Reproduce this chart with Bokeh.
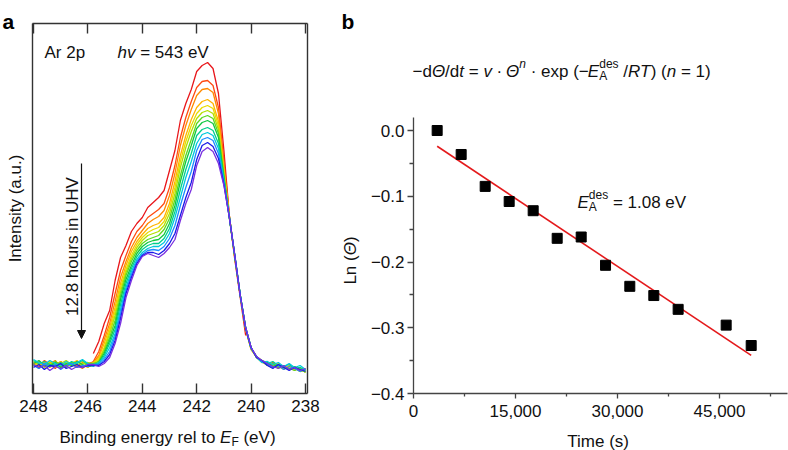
import math
from bokeh.plotting import figure
from bokeh.models import (Range1d, Label, Arrow, NormalHead, FixedTicker, LinearAxis,
                          NumeralTickFormatter, CustomJSTickFormatter)
from bokeh.layouts import row
from bokeh.embed import file_html
from bokeh.resources import INLINE

nan = float("nan")
FONT = "Liberation Sans"

# ---------------- Panel a data: Ar 2p spectra (intensity, a.u.) ----------------
energy_eV = [248.0, 247.8, 247.6, 247.4, 247.2, 247.0, 246.8, 246.6, 246.4, 246.2,
             246.0, 245.8, 245.6, 245.4, 245.2, 245.0, 244.8, 244.6, 244.4, 244.2,
             244.0, 243.8, 243.6, 243.4, 243.2, 243.0, 242.8, 242.6, 242.4, 242.2,
             242.0, 241.8, 241.6, 241.4, 241.2, 241.0, 240.8, 240.6, 240.4, 240.2,
             240.0, 239.8, 239.6, 239.4, 239.2, 239.0, 238.8, 238.6, 238.4, 238.2,
             238.0]

scan_01 = [nan, nan, nan, nan, nan, nan, nan, nan, nan, nan, nan,
           12, 24, 42, 55, 85, 108, 120, 134, 142, 148, 158, 163, 168, 175, 195,
           215, 245, 262, 276, 294, 300, 303, 297, 272, 215, 150, 106, 68, 30,
           nan, nan, nan, nan, nan, nan, nan, nan, nan, nan, nan]
scan_02 = [3, -2, 5, 1, -3, 4, 0, 2, -1, 3, 1,
           4, 14, 30, 48, 72, 95, 110, 124, 134, 140, 148, 152, 156, 162, 178,
           200, 228, 248, 264, 278, 284, 285, 280, 258, 205, 150, 108, 70, 36,
           16, 8, 4, 1, 3, -2, 0, -4, -1, -5, -3]
scan_03 = [0, 4, -1, 2, 5, -2, 1, 3, 0, -3, 2,
           3, 10, 26, 42, 64, 88, 104, 118, 128, 135, 142, 146, 149, 155, 170,
           192, 220, 240, 256, 270, 276, 277, 273, 252, 200, 149, 108, 70, 37,
           17, 9, 4, 0, -2, 2, -3, -1, -5, -2, -6]
scan_04 = [2, 0, 3, -2, 1, 4, -1, 2, 5, 0, -2,
           2, 8, 22, 38, 58, 82, 100, 114, 124, 131, 137, 140, 142, 148, 162,
           184, 210, 230, 246, 258, 264, 266, 262, 244, 196, 150, 109, 71, 36,
           17, 8, 3, 3, 0, -1, -4, 0, -3, -6, -4]
scan_05 = [-1, 3, 1, 4, -2, 0, 3, -1, 2, 4, 0,
           3, 6, 18, 35, 54, 78, 96, 110, 121, 128, 133, 136, 138, 144, 157,
           178, 204, 224, 240, 252, 258, 260, 257, 240, 194, 148, 108, 70, 37,
           16, 9, 5, 1, -1, 2, -3, -2, -4, -3, -7]
scan_06 = [4, 1, -2, 3, 0, 2, 5, 1, -2, 2, 3,
           1, 5, 16, 32, 50, 74, 93, 107, 118, 125, 130, 132, 134, 140, 152,
           172, 198, 218, 234, 247, 253, 255, 252, 236, 192, 149, 110, 71, 38,
           18, 8, 4, 2, 1, -3, 0, -4, -2, -6, -5]
scan_07 = [1, -3, 2, 0, 4, 1, -2, 3, 1, -1, 2,
           2, 4, 14, 28, 45, 70, 90, 104, 115, 122, 126, 128, 130, 136, 147,
           166, 190, 210, 226, 242, 248, 250, 247, 232, 190, 148, 109, 70, 37,
           17, 9, 4, 0, 2, -2, -1, -3, -5, -2, -7]
scan_08 = [2, 5, 0, -1, 3, -2, 2, 0, 4, 1, -1,
           0, 3, 12, 25, 40, 66, 86, 100, 112, 119, 123, 125, 126, 131, 142,
           160, 184, 204, 220, 237, 243, 245, 242, 228, 188, 147, 110, 71, 38,
           18, 8, 5, 3, -1, 1, -2, -4, -1, -5, -4]
scan_09 = [5, 2, 4, 1, -1, 3, 0, 4, 2, 5, 1,
           1, 2, 10, 22, 36, 61, 82, 97, 109, 116, 120, 122, 122, 127, 137,
           154, 176, 196, 212, 230, 236, 238, 235, 222, 186, 149, 109, 70, 37,
           17, 9, 4, 2, 4, 0, -1, 1, -3, -2, -5]
scan_10 = [6, 3, 1, 5, 2, 0, 4, 1, 3, 6, 2,
           -1, 3, 8, 18, 32, 56, 78, 94, 106, 113, 117, 119, 119, 123, 132,
           148, 168, 188, 204, 222, 231, 233, 230, 217, 184, 148, 110, 71, 38,
           18, 8, 3, 4, 1, 3, -1, 2, -2, 0, -4]
scan_11 = [0, -3, 2, -1, 1, -4, 0, 2, -2, 0, -1,
           1, 1, 6, 14, 29, 52, 75, 91, 104, 111, 115, 116, 115, 119, 127,
           140, 160, 178, 194, 215, 226, 228, 225, 212, 183, 149, 111, 71, 38,
           17, 9, 4, 1, -2, 0, -4, -1, -3, -6, -4]
scan_12 = [-2, 1, -4, 0, -1, 2, -3, -1, 1, -2, 0,
           0, 0, 4, 11, 25, 47, 72, 88, 102, 110, 113, 113, 111, 115, 122,
           132, 150, 168, 183, 206, 220, 223, 219, 207, 181, 148, 110, 70, 37,
           18, 8, 5, 0, -3, 1, -2, -5, -2, -4, -6]
scan_13 = [1, -2, 0, -5, -1, -3, 0, -4, -1, -2, 1,
           1, -1, 2, 8, 22, 42, 68, 85, 100, 109, 112, 110, 108, 112, 118,
           126, 145, 162, 176, 200, 214, 218, 214, 202, 180, 148, 110, 70, 38,
           18, 9, 5, 2, -1, -3, 0, -4, -2, -5, -3]

scans = [scan_01, scan_02, scan_03, scan_04, scan_05, scan_06, scan_07,
         scan_08, scan_09, scan_10, scan_11, scan_12, scan_13]
scan_colors = ["#e8161b", "#ff4a10", "#ff8a00", "#ffb400", "#e8dc00", "#b2e000",
               "#5cd820", "#10c840", "#00d08c", "#00c8dc", "#1c8cff", "#1a1ae8",
               "#7a30e0"]
energy_ticks = [248, 246, 244, 242, 240, 238]

# ---------------- Panel b data: Ln(theta) vs time ----------------
time_s = [3480, 7010, 10540, 14070, 17600, 21130, 24660, 28240, 31810, 35340,
          38920, 45980, 49660]
ln_theta = [0.0, -0.0365, -0.085, -0.108, -0.122, -0.164, -0.162, -0.205, -0.237,
            -0.251, -0.272, -0.296, -0.327]
fit_time_s = [3480, 49660]
fit_ln_theta = [-0.024, -0.342]
time_ticks = [0, 15000, 30000, 45000]
time_minor = [7500, 22500, 37500, 52500]
ln_ticks = [-0.4, -0.3, -0.2, -0.1, 0.0]
ln_minor = [-0.35, -0.25, -0.15, -0.05]

# ---------------- helpers for mixed-style text ----------------
W = {' ': 278, '(': 333, ')': 333, ',': 278, '.': 278, '/': 278, '=': 584,
     'A': 667, 'B': 667, 'E': 667, 'F': 611, 'H': 722, 'I': 278, 'L': 556,
     'R': 722, 'T': 611, 'U': 722, 'V': 667, 'a': 556, 'b': 556, 'c': 500,
     'd': 556, 'e': 556, 'g': 556, 'h': 556, 'i': 222, 'l': 222, 'm': 833,
     'n': 556, 'o': 556, 'p': 556, 'r': 333, 's': 500, 't': 278, 'u': 556,
     'v': 500, 'x': 500, 'y': 500, '\u0398': 778, '\u2212': 584, '\u00b7': 278}
for _d in "0123456789":
    W[_d] = 556


def tw(s, size):
    return sum(W.get(ch, 556) for ch in s) * size / 1000.0


def rich(fig, x, y, pieces, align="left", angle=0.0, color="#111111"):
    total = sum(tw(p[0], p[2]) for p in pieces if p[4])
    cur = -total / 2.0 if align == "center" else 0.0
    ca, sa = math.cos(angle), math.sin(angle)
    for text, style, size, dy, adv in pieces:
        stripped = text.lstrip(" ")
        lead = tw(text[:len(text) - len(stripped)], size)
        pos = cur + lead
        if stripped.strip():
            fig.add_layout(Label(x=x, y=y, x_offset=pos * ca - dy * sa,
                                 y_offset=pos * sa + dy * ca, text=stripped.rstrip(" "),
                                 text_font=FONT, text_font_size=f"{size}px",
                                 text_font_style=style, text_align="left",
                                 text_baseline="alphabetic", angle=angle,
                                 text_color=color))
        if adv:
            cur += tw(text, size)


def P(text, style="normal", size=17, dy=0, adv=True):
    return (text, style, size, dy, adv)


def style_axis(ax, color="#333333", width=1.4):
    ax.axis_line_color = color
    ax.axis_line_width = width
    ax.major_tick_line_color = color
    ax.minor_tick_line_color = color
    ax.major_tick_line_width = width
    ax.minor_tick_line_width = width
    ax.major_label_text_font = FONT
    ax.major_label_text_font_size = "17px"
    ax.major_label_text_color = "#111111"


W1, W2, H = 338, 450, 450

# ---------------- Panel a ----------------
def xa(px):  # page px -> binding energy
    return 248.0 - (px - 33.0) / 27.2


def ya(py):  # page px -> intensity
    return 365.0 - py


p1 = figure(width=W1, height=H, x_range=Range1d(xa(0), xa(W1)),
            y_range=Range1d(ya(H), ya(0)), output_backend="svg",
            toolbar_location=None, x_axis_location=None, y_axis_location=None,
            min_border=0)
p1.grid.visible = False
p1.outline_line_color = None

box_l, box_r, box_b, box_t = xa(32), xa(307), ya(393), ya(23)

bot = LinearAxis(fixed_location=box_b, bounds=(box_r, box_l),
                 ticker=FixedTicker(ticks=energy_ticks), major_tick_in=10,
                 major_tick_out=0, minor_tick_in=0, minor_tick_out=0,
                 major_label_standoff=6)
style_axis(bot)
p1.add_layout(bot, "below")

top = LinearAxis(fixed_location=box_t, bounds=(box_r, box_l),
                 ticker=FixedTicker(ticks=energy_ticks), major_tick_in=10,
                 major_tick_out=0, minor_tick_in=0, minor_tick_out=0,
                 formatter=CustomJSTickFormatter(code="return '';"))
style_axis(top)
p1.add_layout(top, "above")

for loc, side in ((box_l, "left"), (box_r, "right")):
    side_ax = LinearAxis(fixed_location=loc, bounds=(box_b, box_t),
                         ticker=FixedTicker(ticks=[]), major_tick_in=0, major_tick_out=0,
                         minor_tick_in=0, minor_tick_out=0)
    style_axis(side_ax)
    p1.add_layout(side_ax, side)

for scan, col in zip(scans, scan_colors):
    p1.line(energy_eV, scan, line_color=col, line_width=1.3)

p1.add_layout(Arrow(end=NormalHead(size=8, fill_color="#111111", line_color="#111111"),
                    x_start=xa(81), y_start=ya(163), x_end=xa(81), y_end=ya(338),
                    line_color="#111111", line_width=1.2))

p1.add_layout(Label(x=xa(2), y=ya(21), text="a", text_font=FONT, text_font_size="21px",
                    text_font_style="bold", text_baseline="alphabetic", text_color="#000000"))
rich(p1, xa(44), ya(52), [P("Ar 2p")])
rich(p1, xa(117), ya(52), [P("hv", "italic"), P(" = 543 eV")])
p1.add_layout(Label(x=xa(72), y=ya(246), text="12.8 hours in UHV", text_font=FONT,
                    text_font_size="17px", text_align="center", text_baseline="alphabetic",
                    angle=math.pi / 2, text_color="#111111"))
p1.add_layout(Label(x=xa(15), y=ya(208), text="Intensity (a.u.)", text_font=FONT,
                    text_font_size="17px", text_align="center", text_baseline="alphabetic",
                    angle=math.pi / 2, text_color="#111111"))
rich(p1, xa(167), ya(437), [P("Binding energy rel to "), P("E", "italic"),
                            P("F", size=12, dy=-4), P(" (eV)")], align="center")

# ---------------- Panel b ----------------
def xb(px):
    return (px - 413.0) * 15000.0 / 102.0


def yb(py):
    return (130.0 - py) / 657.5


p2 = figure(width=W2, height=H, x_range=Range1d(xb(W1), xb(W1 + W2)),
            y_range=Range1d(yb(H), yb(0)), output_backend="svg",
            toolbar_location=None, x_axis_location=None, y_axis_location=None,
            min_border=0)
p2.grid.visible = False
p2.outline_line_color = None

xax = LinearAxis(fixed_location=-0.4, bounds=(0, xb(787)),
                 ticker=FixedTicker(ticks=time_ticks, minor_ticks=time_minor),
                 formatter=NumeralTickFormatter(format="0,0"),
                 major_tick_in=0, major_tick_out=5, minor_tick_in=0, minor_tick_out=3,
                 major_label_standoff=6)
style_axis(xax, "#444444", 1.3)
p2.add_layout(xax, "below")

yax = LinearAxis(fixed_location=0, bounds=(-0.4, yb(117)),
                 ticker=FixedTicker(ticks=ln_ticks, minor_ticks=ln_minor),
                 formatter=CustomJSTickFormatter(
                     code="return (tick < -1e-9 ? '\\u2212' : '') + Math.abs(tick).toFixed(1);"),
                 major_tick_in=0, major_tick_out=6, minor_tick_in=0, minor_tick_out=4,
                 major_label_standoff=3)
style_axis(yax, "#444444", 1.3)
p2.add_layout(yax, "left")

p2.line(fit_time_s, fit_ln_theta, line_color="#e41a1c", line_width=1.6)
p2.scatter(time_s, ln_theta, marker="square", size=10, fill_color="#000000",
           line_color="#000000")

p2.add_layout(Label(x=xb(341), y=yb(21), text="b", text_font=FONT, text_font_size="21px",
                    text_font_style="bold", text_baseline="alphabetic", text_color="#000000"))

rich(p2, xb(412), yb(71), [
    P("\u2212d"), P("\u0398", "italic"), P("/d"), P("t", "italic"), P(" = "),
    P("v", "italic"), P(" \u00b7 "), P("\u0398", "italic"), P("n", "italic", 12, 8),
    P(" \u00b7 exp (\u2212"), P("E", "italic"), P("A", size=12, dy=-4, adv=False),
    P("des", size=12, dy=8), P(" /"), P("RT", "italic"), P(") ("), P("n", "italic"),
    P(" = 1)")])

rich(p2, xb(577), yb(202), [P("E", "italic"), P("A", size=12, dy=-4, adv=False),
                           P("des", size=12, dy=8), P(" = 1.08 eV")])

rich(p2, xb(350), yb(260), [P("Ln ("), P("\u0398", "italic"), P(")")],
     align="center", angle=math.pi / 2)
rich(p2, xb(598), yb(441), [P("Time (s)")], align="center")

layout = row(p1, p2, spacing=0)
open("out.html", "w").write(file_html(layout, INLINE))
